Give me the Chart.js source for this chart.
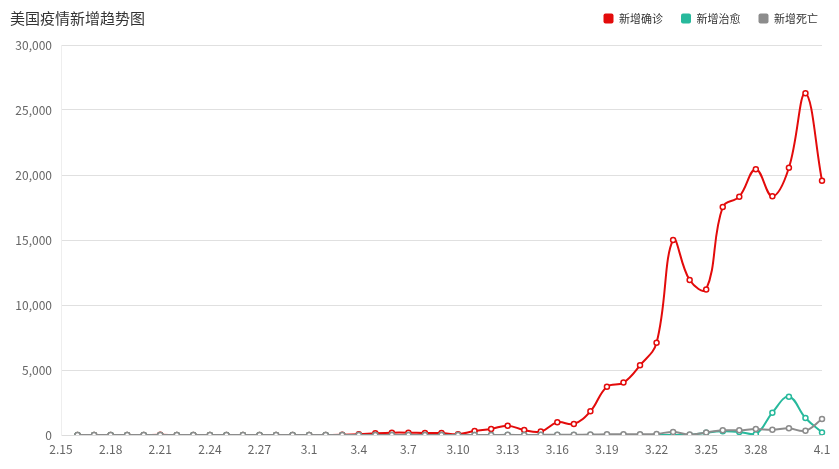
<!DOCTYPE html>
<html>
<head>
<meta charset="utf-8">
<script src="https://cdn.jsdelivr.net/npm/chart.js@4"></script>
<style>
  html, body { margin: 0; padding: 0; background: #fff; }
  #wrap { position: relative; width: 839px; height: 469px; }
  #title {
    position: absolute; left: 10px; top: 7px;
    font: 15px "Noto Sans CJK SC", sans-serif; color: #333; line-height: 22px;
  }
</style>
</head>
<body>
<div id="wrap">
  <div id="title">美国疫情新增趋势图</div>
  <canvas id="trend" width="839" height="469"></canvas>
</div>
<script>
const dates = ['2.15', '2.16', '2.17', '2.18', '2.19', '2.20', '2.21', '2.22', '2.23', '2.24',
  '2.25', '2.26', '2.27', '2.28', '2.29', '3.1', '3.2', '3.3', '3.4', '3.5', '3.6', '3.7',
  '3.8', '3.9', '3.10', '3.11', '3.12', '3.13', '3.14', '3.15', '3.16', '3.17', '3.18',
  '3.19', '3.20', '3.21', '3.22', '3.23', '3.24', '3.25', '3.26', '3.27', '3.28', '3.29',
  '3.30', '3.31', '4.1'];

// 新增确诊
const confirmed = [null, 0, 0, 0, 0, 0, 13, 0, 0, 1, 0, 0, 1, 1, 0, 2, 8, 15,
  50, 130, 180, 180, 150, 150, 60, 300, 460, 720, 380, 260, 980, 850, 1820,
  3720, 4030, 5360, 7100, 15000, 11920, 11200, 17540, 18330, 20440, 18360,
  20560, 26280, 19560];

// 新增治愈
const recovered = [null, 0, 0, 0, 0, 0, 0, 0, 0, 0, 0, 0, 0, 0, 0, 0, 0, 0,
  0, 0, 0, 0, 0, 0, 0, 0, 0, 0, 0, 0, 0, 0, 0,
  0, 0, 0, 0, 0, 0, 180, 280, 230, 60, 1720,
  2950, 1310, 200];

// 新增死亡
const deaths = [null, 0, 0, 0, 0, 0, 0, 0, 0, 0, 0, 0, 0, 0, 1, 1, 4, 1,
  2, 1, 2, 1, 4, 3, 5, 6, 8, 10, 9, 10, 20, 25, 30,
  50, 50, 55, 80, 240, 40, 200, 360, 360, 460, 400,
  510, 330, 1230];

const yTicks = [0, 5000, 10000, 15000, 20000, 25000, 30000];

function series(label, data, color, order) {
  return {
    label: label,
    data: data,
    borderColor: color,
    backgroundColor: color,
    borderWidth: 2,
    tension: 0.4,
    pointRadius: 2.5,
    pointHoverRadius: 3,
    pointBorderWidth: 1.5,
    pointBackgroundColor: '#fff',
    pointBorderColor: color,
    fill: false,
    order: order
  };
}

// legend shares the title row, so lift it a bit after layout
const liftLegend = {
  id: 'liftLegend',
  afterLayout(chart) {
    if (chart.legend) {
      chart.legend.top -= 11;
      chart.legend.bottom -= 11;
    }
  }
};

new Chart(document.getElementById('trend'), {
  type: 'line',
  data: {
    labels: dates,
    datasets: [
      series('新增确诊', confirmed, '#e30b0b', 2),
      series('新增治愈', recovered, '#27b99c', 1),
      series('新增死亡', deaths, '#8c8c8c', 0)
    ]
  },
  plugins: [liftLegend],
  options: {
    responsive: false,
    animation: false,
    layout: { padding: { top: -5, right: 3, left: 0, bottom: 0 } },
    plugins: {
      tooltip: { enabled: false },
      legend: {
        position: 'top',
        align: 'end',
        labels: {
          boxWidth: 10,
          boxHeight: 10,
          padding: 18,
          useBorderRadius: true,
          borderRadius: 2,
          color: '#333',
          font: { size: 11, family: '"Noto Sans CJK SC", sans-serif' },
          generateLabels(chart) {
            const items = Chart.defaults.plugins.legend.labels.generateLabels(chart);
            items.forEach(it => { it.lineWidth = 0; });
            return items.sort((a, b) => a.datasetIndex - b.datasetIndex);
          }
        }
      }
    },
    scales: {
      x: {
        grid: { display: false, drawTicks: false },
        border: { display: true, color: '#dcdcdc' },
        ticks: {
          autoSkip: false,
          maxRotation: 0,
          padding: 7,
          color: '#666',
          font: { size: 12, family: '"Noto Sans CJK SC", sans-serif' },
          callback(value, index) {
            if (index === dates.length - 1) return dates[index];
            if (index % 3 === 0 && index < dates.length - 3) return dates[index];
            return null;
          }
        },
        afterFit(scale) {
          scale.height = 34;
          scale.paddingRight = 17;
        }
      },
      y: {
        min: 0,
        max: 30000,
        grid: { color: '#e0e0e0', drawTicks: false },
        border: { display: true, color: '#eeeeee' },
        afterBuildTicks(scale) {
          scale.ticks = yTicks.map(v => ({ value: v }));
        },
        ticks: {
          padding: 9,
          color: '#666',
          font: { size: 12, family: '"Noto Sans CJK SC", sans-serif' },
          callback: v => v.toLocaleString('en-US')
        },
        afterFit(scale) {
          scale.width = 61;
          scale.paddingTop = 45;
        }
      }
    }
  }
});
</script>
</body>
</html>
